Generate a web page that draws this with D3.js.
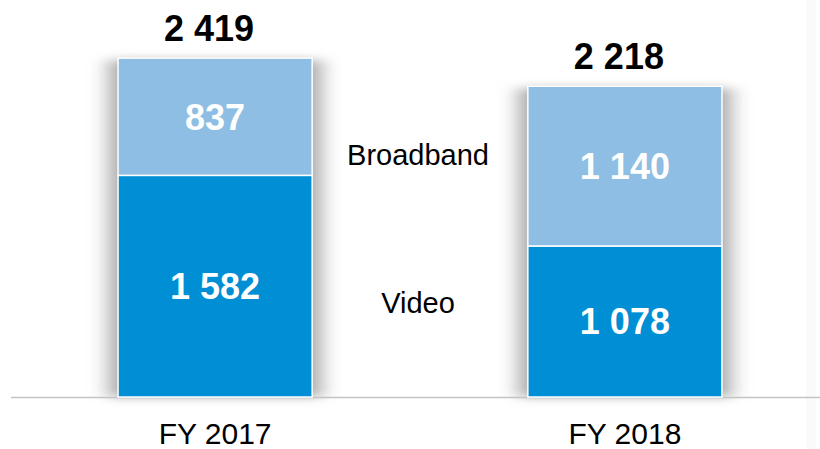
<!DOCTYPE html>
<html>
<head>
<meta charset="utf-8">
<script src="https://cdn.jsdelivr.net/npm/d3@7"></script>
<style>
  body { margin: 0; background: #fff; }
  svg { display: block; font-family: "Liberation Sans", Arial, sans-serif; }
</style>
</head>
<body>
<svg id="chart" width="820" height="449"></svg>
<script>
'use strict'

// chart data
var categories = ["FY 2017", "FY 2018"];
var series = ["Video", "Broadband"];
var video = [1582, 1078];
var broadband = [837, 1140];
var totals = [2419, 2218];

var colors = { "Video": "#008fd4", "Broadband": "#8ebee3" };

var svg = d3.select("#chart");
var baseY = 397;

var x = d3.scaleBand()
	.domain(categories)
	.range([15.6, 824.4])
	.paddingInner(0.5263)
	.paddingOuter(0.25);

var y = d3.scaleLinear()
	.domain([0, 2500])
	.range([baseY, baseY - 2500 * 0.1401]);

// space-separated thousands
function fmt(v){
	return d3.format(",")(v).replace(/,/g, " ");
}

// blur filter for the bar shadow
var defs = svg.append("defs");
defs.append("filter")
	.attr("id", "shadow")
	.attr("x", "-50%").attr("y", "-50%")
	.attr("width", "200%").attr("height", "200%")
	.append("feGaussianBlur")
	.attr("stdDeviation", "10 5");

// faint strip at the right edge
svg.append("rect")
	.attr("x", 806).attr("y", 0)
	.attr("width", 10).attr("height", 449)
	.attr("fill", "#fafafa");

var stacked = d3.stack().keys(series)(categories.map(function(c, i){
	return { cat: c, "Video": video[i], "Broadband": broadband[i] };
}));

// shadows behind every bar
svg.append("g").selectAll("rect")
	.data(categories)
	.join("rect")
	.attr("x", function(d){ return x(d) - 9; })
	.attr("y", function(d, i){ return y(totals[i]) + 2; })
	.attr("width", x.bandwidth() + 18)
	.attr("height", function(d, i){ return baseY - y(totals[i]) - 2; })
	.attr("fill", "#a8a8a8")
	.attr("filter", "url(#shadow)");

// baseline
svg.append("line")
	.attr("x1", 11).attr("x2", 820)
	.attr("y1", baseY + 0.5).attr("y2", baseY + 0.5)
	.attr("stroke", "#c4c4c4")
	.attr("stroke-width", 1.6);

// stacked segments
var layer = svg.append("g").selectAll("g")
	.data(stacked)
	.join("g")
	.attr("fill", function(d){ return colors[d.key]; });

layer.selectAll("rect")
	.data(function(d){ return d; })
	.join("rect")
	.attr("x", function(d){ return x(d.data.cat); })
	.attr("y", function(d){ return y(d[1]); })
	.attr("width", x.bandwidth())
	.attr("height", function(d){ return y(d[0]) - y(d[1]); })
	.attr("stroke", "#fff")
	.attr("stroke-width", 1.5);

// values inside the segments
layer.selectAll("text")
	.data(function(d){ return d; })
	.join("text")
	.attr("x", function(d){ return x(d.data.cat) + x.bandwidth() / 2; })
	.attr("y", function(d){ return (y(d[0]) + y(d[1])) / 2 + 13; })
	.attr("text-anchor", "middle")
	.attr("fill", "#fff")
	.attr("font-weight", "bold")
	.attr("font-size", 36)
	.text(function(d){ return fmt(d[1] - d[0]); });

// totals above bars
svg.append("g").selectAll("text")
	.data(categories)
	.join("text")
	.attr("x", function(d){ return x(d) + x.bandwidth() / 2 - 6; })
	.attr("y", function(d, i){ return y(totals[i]) - 17; })
	.attr("text-anchor", "middle")
	.attr("font-weight", "bold")
	.attr("font-size", 36)
	.attr("fill", "#000")
	.text(function(d, i){ return fmt(totals[i]); });

// category labels
svg.append("g").selectAll("text")
	.data(categories)
	.join("text")
	.attr("x", function(d){ return x(d) + x.bandwidth() / 2; })
	.attr("y", 444)
	.attr("text-anchor", "middle")
	.attr("font-size", 30)
	.attr("fill", "#000")
	.text(function(d){ return d; });

// series labels between the bars
var midX = (x(categories[0]) + x.bandwidth() + x(categories[1])) / 2;
var seriesLabels = [
	{ name: "Broadband", v: 1727 },
	{ name: "Video", v: 671 }
];
svg.append("g").selectAll("text")
	.data(seriesLabels)
	.join("text")
	.attr("x", midX - 2)
	.attr("y", function(d){ return y(d.v) + 10; })
	.attr("text-anchor", "middle")
	.attr("font-size", 29)
	.attr("fill", "#000")
	.text(function(d){ return d.name; });
</script>
</body>
</html>
